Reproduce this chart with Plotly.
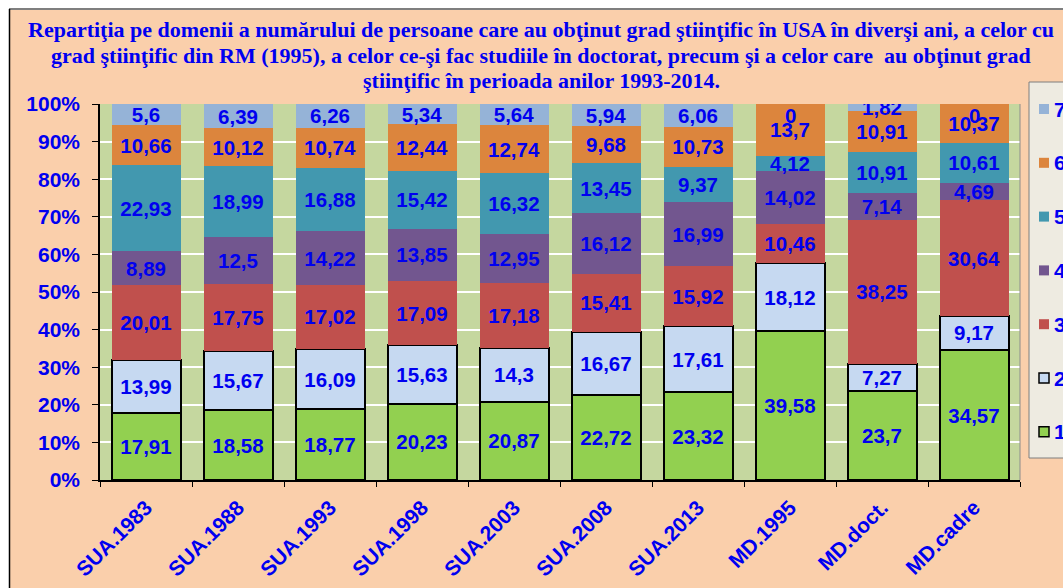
import plotly.graph_objects as go

# ---------------- data ----------------
categories = ["SUA.1983", "SUA.1988", "SUA.1993", "SUA.1998", "SUA.2003",
              "SUA.2008", "SUA.2013", "MD.1995", "MD.doct.", "MD.cadre"]
s1 = [17.91, 18.58, 18.77, 20.23, 20.87, 22.72, 23.32, 39.58, 23.7, 34.57]
s2 = [13.99, 15.67, 16.09, 15.63, 14.3, 16.67, 17.61, 18.12, 7.27, 9.17]
s3 = [20.01, 17.75, 17.02, 17.09, 17.18, 15.41, 15.92, 10.46, 38.25, 30.64]
s4 = [8.89, 12.5, 14.22, 13.85, 12.95, 16.12, 16.99, 14.02, 7.14, 4.69]
s5 = [22.93, 18.99, 16.88, 15.42, 16.32, 13.45, 9.37, 4.12, 10.91, 10.61]
s6 = [10.66, 10.12, 10.74, 12.44, 12.74, 9.68, 10.73, 13.7, 10.91, 10.37]
s7 = [5.6, 6.39, 6.26, 5.34, 5.64, 5.94, 6.06, 0, 1.82, 0]
series_names = ["1", "2", "3", "4", "5", "6", "7"]
series_values = [s1, s2, s3, s4, s5, s6, s7]
y_ticks = [0, 10, 20, 30, 40, 50, 60, 70, 80, 90, 100]
y_ticktext = [f"{v}%" for v in y_ticks]

title_lines = [
    "Repartiţia pe domenii a numărului de persoane care au obţinut grad ştiinţific în USA în diverşi ani, a celor cu",
    "grad ştiinţific din RM (1995), a celor ce-şi fac studiile în doctorat, precum şi a celor care  au obţinut grad",
    "ştiinţific în perioada anilor 1993-2014.",
]

# ---------------- style ----------------
colors = ["#92D050", "#C6D9F1", "#C0504D", "#72568F", "#4298AF", "#DC853D", "#95B3D7"]
outlined = [True, True, False, False, False, False, False]
BLUE = "#0000F0"
PEACH = "#FACFAB"
PLOTBG = "#C5D79F"
SANS = "Liberation Sans, Arial"
W, H = 1063, 588
L, R, T, B = 100, 43, 104, 108
PW, PH = W - L - R, H - T - B


def px2x(px):
    return (px - L) / PW


def py2y(py):
    return (H - B - py) / PH


def fmt(v):
    return f"{v:g}".replace(".", ",")


fig = go.Figure()
for name, vals, col, ol in zip(series_names, series_values, colors, outlined):
    fig.add_trace(go.Bar(
        x=categories, y=vals, name=name,
        marker=dict(color=col,
                    line=dict(color="black" if ol else col, width=2 if ol else 0)),
        text=[fmt(v) if v != 0 else "" for v in vals],
        textposition="inside", insidetextanchor="middle",
        constraintext="none", textangle=0,
        textfont=dict(family=SANS, size=20.5, color=BLUE, weight="bold"),
        showlegend=False,
    ))

annotations = []
# labels for zero-height segments (shown at the top of the stack)
for cat, vals in zip(categories, zip(*series_values)):
    if vals[-1] == 0:
        annotations.append(dict(x=cat, y=100, xref="x", yref="y", text=fmt(vals[-1]),
                                showarrow=False, yanchor="top", yshift=2,
                                font=dict(family=SANS, size=20.5, color=BLUE, weight="bold")))

# title, one annotation per line
for i, line in enumerate(title_lines):
    annotations.append(dict(x=px2x(541), y=py2y(30 + 25 * i), xref="paper", yref="paper",
                            text=line, showarrow=False, xanchor="center", yanchor="middle",
                            font=dict(family="Liberation Serif, Times New Roman", size=22,
                                      color=BLUE, weight="bold")))

shapes = []
# page frame: white strips top/left with border lines
shapes.append(dict(type="rect", xref="paper", yref="paper", x0=px2x(-5), x1=px2x(W + 5),
                   y0=py2y(8.5), y1=py2y(-5), fillcolor="white", line=dict(width=0), layer="above"))
shapes.append(dict(type="rect", xref="paper", yref="paper", x0=px2x(-5), x1=px2x(9),
                   y0=py2y(H + 5), y1=py2y(-5), fillcolor="white", line=dict(width=0), layer="above"))
shapes.append(dict(type="line", xref="paper", yref="paper", x0=px2x(9), x1=px2x(W + 5),
                   y0=py2y(9), y1=py2y(9), line=dict(color="#7F7F7F", width=2), layer="above"))
shapes.append(dict(type="line", xref="paper", yref="paper", x0=px2x(9.5), x1=px2x(9.5),
                   y0=py2y(9), y1=py2y(H + 5), line=dict(color="black", width=1.5), layer="above"))
# right border of plot area
shapes.append(dict(type="line", xref="paper", yref="paper", x0=1, x1=1, y0=0, y1=1,
                   line=dict(color="#8C8C8C", width=1), layer="above"))

# legend (box partly cut by the window edge, as in the reference)
shapes.append(dict(type="rect", xref="paper", yref="paper", x0=px2x(1029), x1=px2x(W + 10),
                   y0=py2y(458), y1=py2y(82), fillcolor="#EEEBE1",
                   line=dict(color="#7F7F7F", width=1), layer="above"))
for k, (name, col, ol) in enumerate(zip(series_names, colors, outlined)):
    cy = 109 + (len(series_names) - 1 - k) * 53.8
    shapes.append(dict(type="rect", xref="paper", yref="paper",
                       x0=px2x(1039), x1=px2x(1049), y0=py2y(cy + 5), y1=py2y(cy - 5),
                       fillcolor=col, line=dict(color="black" if ol else col, width=1.5 if ol else 0),
                       layer="above"))
    annotations.append(dict(x=px2x(1052), y=py2y(cy), xref="paper", yref="paper",
                            text=name, showarrow=False, xanchor="left", yanchor="middle",
                            font=dict(family=SANS, size=21, color=BLUE, weight="bold")))

fig.update_layout(
    width=W, height=H,
    margin=dict(l=L, r=R, t=T, b=B, pad=0),
    barmode="stack", barnorm="percent", bargap=0.25,
    paper_bgcolor=PEACH, plot_bgcolor=PLOTBG,
    xaxis=dict(showline=True, linecolor="black", linewidth=2, ticks="outside",
               tickson="boundaries", ticklen=5, tickcolor="black", tickwidth=1,
               tickangle=-45, ticklabelstandoff=5, automargin=False,
               tickfont=dict(family=SANS, size=21, color=BLUE, weight="bold")),
    yaxis=dict(range=[0, 100], tickmode="array", tickvals=y_ticks, ticktext=y_ticktext,
               showline=True, linecolor="black", linewidth=1.5, ticks="outside", ticklen=6,
               tickcolor="black", showgrid=True, gridcolor="white", gridwidth=1.5,
               zeroline=False, ticklabelstandoff=8, automargin=False,
               tickfont=dict(family=SANS, size=21, color=BLUE, weight="bold")),
    shapes=shapes, annotations=annotations,
    showlegend=False,
)

fig.write_html("out.html")
